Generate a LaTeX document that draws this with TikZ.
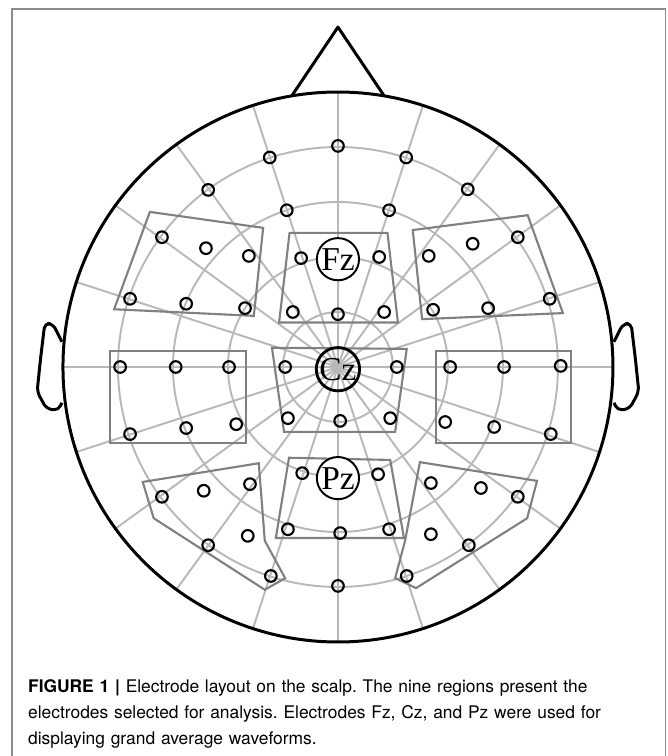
\documentclass[tikz,border=0pt]{standalone}
\usepackage{fontspec}
\setmainfont{Liberation Serif}
\newfontfamily\capfont{TeX Gyre Heros}
\begin{document}
\begin{tikzpicture}[x=1.1cm,y=1.1cm,
  head/.style={black,line width=1.7pt,line join=round},
  grd/.style={black!28,line width=1.1pt},
  region/.style={black!50,line width=1.2pt,line join=miter},
  elec/.style={circle,draw=black,line width=1.2pt,inner sep=0pt,minimum size=6.6pt},
  lab/.style={circle,draw=black,fill=white,line width=1.1pt,inner sep=0pt,minimum size=24pt,font=\fontsize{19}{19}\selectfont}]
  \clip (-6.145,-7.073) rectangle (6.0,6.673);
  % figure frame
  \draw[black!45,line width=0.8pt] (-5.93,-7.5) -- (-5.93,6.51) -- (5.96,6.51) -- (5.96,-7.5);
  % polar grid
  \foreach \r in {1,...,4} \draw[grd] (0,0) circle (\r);
  \foreach \a in {0,18,...,342} \draw[grd] (0,0) -- (\a:5);
  % the nine regions
  \draw[region] (-3.42,2.82) -- (-1.36,2.53) -- (-1.53,0.93) -- (-4.07,1.05) -- cycle;
  \draw[region] (-0.88,2.44) -- (0.90,2.44) -- (1.09,0.81) -- (-1.07,0.81) -- cycle;
  \draw[region] (1.36,2.49) -- (3.45,2.76) -- (4.09,0.98) -- (1.53,0.87) -- cycle;
  \draw[region] (-4.15,0.29) rectangle (-1.67,-1.38);
  \draw[region] (-1.20,0.35) -- (1.25,0.33) -- (1.04,-1.18) -- (-0.98,-1.18) -- cycle;
  \draw[region] (1.78,0.29) rectangle (4.24,-1.38);
  \draw[region] (-0.89,-1.65) -- (0.95,-1.69) -- (1.20,-3.11) -- (-1.13,-3.11) -- cycle;
  \draw[region] (-3.55,-2.09) -- (-1.44,-1.75) -- (-1.33,-3.16) -- (-0.96,-3.84) -- (-1.33,-4.05) -- (-3.35,-2.75) -- cycle;
  \draw[region] (1.49,-1.73) -- (3.62,-2.07) -- (3.44,-2.75) -- (1.42,-4.02) -- (1.04,-3.84) -- (1.22,-3.16) -- cycle;
  % electrodes
  \foreach \p [count=\i] in {(-1.24,3.81),(0,4.02),(1.24,3.81),(-2.36,3.22),(2.36,3.23),(-0.93,2.85),(0.93,2.85),
      (-3.20,2.36),(-2.40,2.16),(-1.62,2.02),(-3.78,1.24),(-2.76,1.15),(-1.69,1.07),
      (-0.67,1.98),(0.75,2.0),(-0.82,1.0),(0,0.96),(0.84,1.0),
      (1.65,2.02),(2.45,2.24),(3.27,2.36),(1.73,1.04),(2.73,1.07),(3.85,1.24),
      (-3.96,0),(-2.95,0),(-1.98,0),(-0.96,0),(1.07,0),(2.04,0),(3.02,0),(4.05,0.02),
      (-3.78,-1.22),(-2.76,-1.11),(-1.85,-1.04),(-0.91,-0.93),(0.04,-0.98),(0.95,-0.93),(1.95,-1.0),(2.84,-1.09),(3.87,-1.22),
      (-0.65,-1.93),(0.73,-1.95),(-0.91,-2.95),(0.04,-3.02),(0.93,-2.95),
      (-3.20,-2.36),(-2.44,-2.25),(-1.60,-2.13),(-2.36,-3.24),(-1.64,-3.07),(-1.22,-3.80),
      (1.69,-2.11),(2.60,-2.20),(3.27,-2.36),(1.69,-3.04),(2.38,-3.24),(1.25,-3.80),
      (0,-3.98)}
    \node[elec] (e\i) at \p {};
  % head, nose and ears
  \draw[head] (0,0) circle (5);
  \draw[head] (-0.84,4.93) -- (0,6.18) -- (0.84,4.93);
  \foreach \s in {1,-1}
    \draw[head,xscale=\s,rounded corners=3pt] (-5.02,0.46) -- (-5.18,0.78) -- (-5.33,0.80) -- (-5.41,0.13)
      -- (-5.47,-0.45) -- (-5.30,-0.76) -- (-5.08,-0.79) -- (-5.02,-0.65);
  % reference electrodes
  \node[lab] (Fz) at (0,1.96) {Fz};
  \node[lab,fill=none,line width=1.6pt] (Cz) at (0,-0.04) {Cz};
  \node[lab] (Pz) at (0,-2.02) {Pz};
  % caption
  \node[anchor=north west,inner sep=0pt,text width=12cm,align=left,
    font=\capfont\fontsize{9.9}{14.7}\selectfont\frenchspacing] (caption) at (-5.64,-5.68)
    {\textbf{FIGURE 1 |} Electrode layout on the scalp. The nine regions present the\\
     electrodes selected for analysis. Electrodes Fz, Cz, and Pz were used for\\
     displaying grand average waveforms.};
\end{tikzpicture}
\end{document}
